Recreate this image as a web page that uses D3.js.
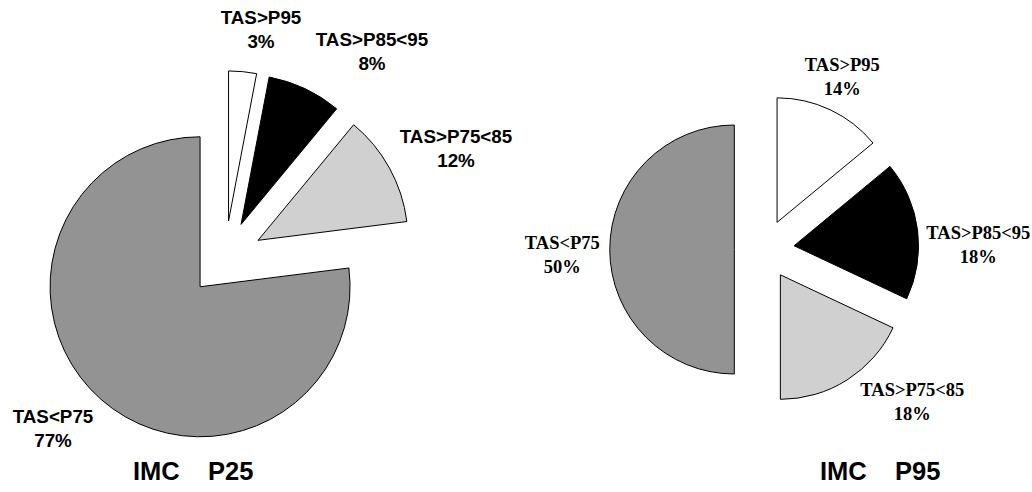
<!DOCTYPE html>
<html>
<head>
<meta charset="utf-8">
<script src="https://cdn.jsdelivr.net/npm/d3@7"></script>
<style>
  html, body { margin: 0; padding: 0; background: #ffffff; }
  svg { display: block; }
  .title { white-space: pre; }
</style>
</head>
<body>
<svg id="chart" width="1032" height="492"></svg>
<script>
// Slice categories, clockwise from 12 o'clock
const categories = ["TAS>P95", "TAS>P85<95", "TAS>P75<85", "TAS<P75"];
// Percentages for each group
const valuesP25 = [3, 8, 12, 77];
const valuesP95 = [14, 18, 18, 50];
// Chart titles
const titles = ["IMC    P25", "IMC    P95"];
// Slice fills, one per category
const sliceColors = ["#ffffff", "#000000", "#d0d0d0", "#939393"];

// Layout of the two pies
const pies = [
  {
    values: valuesP25, title: titles[0],
    cx: 225, cy: 258.5, r: 150, explode: 37.7,
    font: "'Liberation Sans', Arial, sans-serif", labelSize: 18.8,
    lineGap: 23.3,
    // label block centres relative to the pie centre
    labels: [[36, -229], [147, -207], [231, -110], [-172, 170]],
    titleX: 133, titleY: 480
  },
  {
    values: valuesP95, title: titles[1],
    cx: 764.3, cy: 249.5, r: 124.5, explode: 30,
    font: "'Liberation Serif', 'Times New Roman', serif", labelSize: 18.5,
    lineGap: 24,
    labels: [[78, -173], [214, -5], [148, 152], [-202, 5]],
    titleX: 820, titleY: 480
  }
];

const svg = d3.select("#chart");

const pieLayout = d3.pie().sort(null).value(d => d).startAngle(0).endAngle(2 * Math.PI);

pies.forEach(p => {
  const g = svg.append("g").attr("transform", `translate(${p.cx},${p.cy})`);
  const arcGen = d3.arc().innerRadius(0).outerRadius(p.r);
  const arcs = pieLayout(p.values);

  // Every slice is pulled out along its mid-angle
  g.selectAll("path.slice")
    .data(arcs)
    .join("path")
    .attr("class", "slice")
    .attr("d", arcGen)
    .attr("transform", d => {
      const mid = (d.startAngle + d.endAngle) / 2;
      return `translate(${Math.sin(mid) * p.explode},${-Math.cos(mid) * p.explode})`;
    })
    .attr("fill", (d, i) => sliceColors[i])
    .attr("stroke", "#000")
    .attr("stroke-width", 1)
    .attr("stroke-linejoin", "miter");

  // Category name and percentage for each slice
  const lab = g.selectAll("text.lab")
    .data(arcs)
    .join("text")
    .attr("class", "lab")
    .attr("font-family", p.font)
    .attr("font-weight", "bold")
    .attr("font-size", p.labelSize)
    .attr("fill", "#000")
    .attr("text-anchor", "middle");

  lab.append("tspan")
    .attr("x", (d, i) => p.labels[i][0])
    .attr("y", (d, i) => p.labels[i][1] - p.lineGap / 2 + p.labelSize * 0.35)
    .text((d, i) => categories[i]);
  lab.append("tspan")
    .attr("x", (d, i) => p.labels[i][0])
    .attr("y", (d, i) => p.labels[i][1] + p.lineGap / 2 + p.labelSize * 0.35)
    .text(d => d.data + "%");

  svg.append("text")
    .attr("class", "title")
    .attr("x", p.titleX)
    .attr("y", p.titleY)
    .attr("font-family", "'Liberation Sans', Arial, sans-serif")
    .attr("font-weight", "bold")
    .attr("font-size", 25.5)
    .attr("fill", "#000")
    .text(p.title);
});
</script>
</body>
</html>
